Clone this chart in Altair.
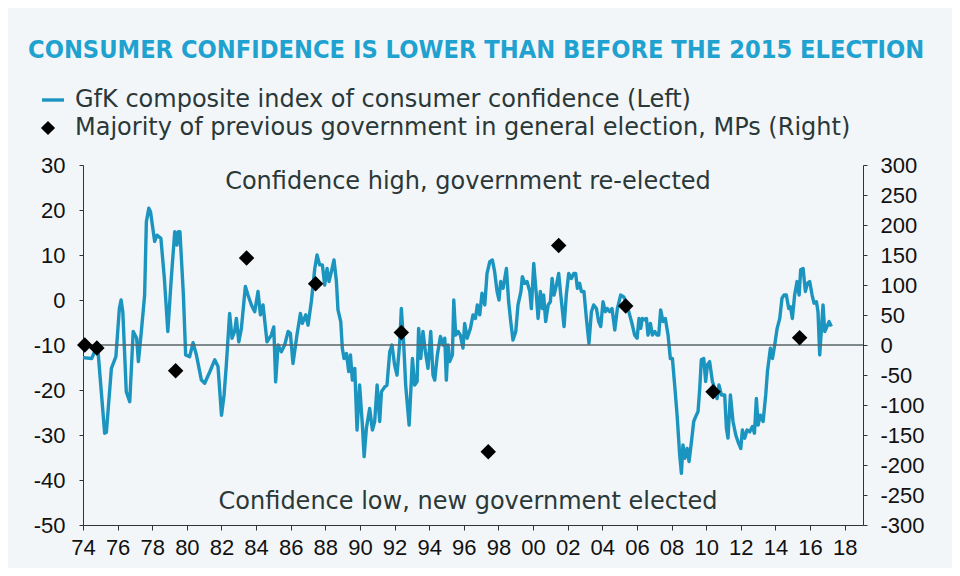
import altair as alt
import pandas as pd

# GfK composite consumer confidence index (left axis)
gfk_year = [
    1974.00, 1974.50, 1974.67, 1974.87, 1975.25, 1975.35, 1975.64, 1975.90, 1976.10, 1976.20,
    1976.30, 1976.50, 1976.70, 1976.90, 1977.10, 1977.20, 1977.37, 1977.56, 1977.66, 1977.80,
    1977.90, 1978.14, 1978.27, 1978.50, 1978.70, 1978.90, 1979.10, 1979.30, 1979.43, 1979.50,
    1979.60, 1979.80, 1979.93, 1980.16, 1980.36, 1980.55, 1980.84, 1981.03, 1981.32, 1981.61,
    1981.80, 1982.00, 1982.15, 1982.28, 1982.47, 1982.61, 1982.76, 1982.86, 1983.00, 1983.15,
    1983.38, 1983.53, 1983.73, 1983.92, 1984.11, 1984.25, 1984.40, 1984.63, 1984.88, 1985.02,
    1985.13, 1985.27, 1985.46, 1985.65, 1985.85, 1985.98, 1986.13, 1986.36, 1986.56, 1986.67,
    1986.87, 1987.00, 1987.19, 1987.39, 1987.52, 1987.67, 1987.83, 1987.96, 1988.10, 1988.21,
    1988.35, 1988.50, 1988.64, 1988.73, 1988.89, 1988.98, 1989.08, 1989.22, 1989.35, 1989.45,
    1989.56, 1989.70, 1989.83, 1989.98, 1990.14, 1990.24, 1990.37, 1990.56, 1990.72, 1990.85,
    1990.99, 1991.14, 1991.24, 1991.43, 1991.56, 1991.72, 1991.85, 1992.00, 1992.14, 1992.30,
    1992.39, 1992.53, 1992.64, 1992.84, 1993.03, 1993.16, 1993.30, 1993.39, 1993.51, 1993.64,
    1993.78, 1993.93, 1994.09, 1994.22, 1994.32, 1994.47, 1994.65, 1994.80, 1994.90, 1994.99,
    1995.09, 1995.18, 1995.34, 1995.42, 1995.53, 1995.67, 1995.80, 1995.95, 1996.05, 1996.19,
    1996.38, 1996.53, 1996.67, 1996.78, 1996.92, 1997.05, 1997.21, 1997.34, 1997.50, 1997.65,
    1997.78, 1997.92, 1998.03, 1998.13, 1998.27, 1998.46, 1998.59, 1998.71, 1998.84, 1999.00,
    1999.13, 1999.30, 1999.38, 1999.52, 1999.65, 1999.81, 1999.90, 2000.04, 2000.19, 2000.29,
    2000.42, 2000.54, 2000.61, 2000.73, 2000.87, 2001.00, 2001.10, 2001.21, 2001.35, 2001.48,
    2001.58, 2001.79, 2001.92, 2002.06, 2002.21, 2002.35, 2002.46, 2002.56, 2002.69, 2002.79,
    2002.94, 2003.08, 2003.23, 2003.37, 2003.50, 2003.66, 2003.79, 2003.91, 2004.04, 2004.18,
    2004.29, 2004.43, 2004.56, 2004.72, 2004.87, 2005.06, 2005.24, 2005.39, 2005.58, 2005.70,
    2005.87, 2006.01, 2006.12, 2006.22, 2006.31, 2006.45, 2006.55, 2006.64, 2006.78, 2006.89,
    2007.03, 2007.16, 2007.26, 2007.37, 2007.51, 2007.64, 2007.80, 2007.93, 2008.05, 2008.18,
    2008.32, 2008.47, 2008.57, 2008.66, 2008.76, 2008.90, 2009.01, 2009.15, 2009.28, 2009.43,
    2009.53, 2009.63, 2009.72, 2009.86, 2009.97, 2010.07, 2010.20, 2010.36, 2010.49, 2010.63,
    2010.74, 2010.88, 2011.07, 2011.17, 2011.26, 2011.40, 2011.55, 2011.71, 2011.84, 2012.00,
    2012.09, 2012.23, 2012.36, 2012.52, 2012.67, 2012.79, 2012.90, 2013.00, 2013.13, 2013.29,
    2013.44, 2013.54, 2013.71, 2013.83, 2013.96, 2014.10, 2014.25, 2014.38, 2014.50, 2014.63,
    2014.77, 2014.87, 2014.98, 2015.11, 2015.25, 2015.37, 2015.46, 2015.60, 2015.73, 2015.85,
    2015.98, 2016.12, 2016.23, 2016.37, 2016.46, 2016.56, 2016.66, 2016.75, 2016.85, 2016.98,
    2017.10, 2017.23,
]
gfk_value = [
    -12.8, -13.0, -11.5, -11.5, -29.6, -29.4, -15.2, -12.6, -1.9, 0.0,
    -2.6, -20.4, -22.6, -7.0, -8.5, -13.7, -7.0, 1.1, 17.4, 20.4,
    19.6, 13.0, 14.4, 13.7, 4.8, -7.0, 4.8, 15.2, 12.2, 15.2,
    15.2, 1.1, -12.2, -12.6, -9.5, -12.2, -17.8, -18.5, -16.0, -13.3,
    -14.8, -25.6, -21.1, -14.4, -3.0, -8.5, -7.0, -4.1, -9.3, -6.3,
    3.0, 1.1, -1.1, -2.6, 1.9, -3.3, -1.1, -9.3, -7.8, -6.0,
    -18.2, -10.0, -11.5, -10.0, -7.0, -7.4, -14.1, -7.8, -3.0, -5.2,
    -3.3, -5.6, -0.4, 7.0, 10.0, 7.8, 7.8, 3.3, 7.0, 4.1,
    6.3, 8.9, 4.1, -2.2, -4.8, -10.7, -13.0, -11.9, -15.9, -12.2,
    -17.8, -15.2, -28.9, -18.9, -27.8, -34.8, -28.5, -24.1, -28.9, -27.0,
    -18.9, -27.0, -20.4, -19.3, -18.9, -11.5, -10.0, -14.4, -16.7, -9.3,
    -1.9, -10.0, -18.9, -27.8, -13.0, -18.9, -18.1, -6.3, -13.0, -7.0,
    -11.5, -15.2, -7.0, -16.7, -17.8, -12.2, -8.1, -10.0, -8.5, -17.8,
    -10.0, -13.7, -12.2, 0.0, -7.8, -7.0, -7.8, -10.7, -5.2, -8.5,
    -6.3, -3.3, -4.1, -1.1, -3.3, 1.5, -1.1, 5.9, 8.5, 8.9,
    6.3, 1.9, 0.0, 4.1, 2.6, 7.0, -0.4, -4.8, -8.9, -7.0,
    -1.1, 1.9, 5.2, 3.7, 4.1, 1.9, -1.9, 8.1, 1.1, -4.1,
    1.9, -1.9, 1.1, -4.8, -1.1, -0.4, 4.8, 1.1, 3.3, 5.9,
    1.9, -5.9, 1.1, 5.9, 4.8, 5.9, 5.9, 2.6, 3.7, 1.9,
    1.9, -4.1, -9.6, -2.6, -1.1, -1.9, -4.8, -5.9, -0.4, -2.6,
    -1.9, -2.6, -1.9, -6.7, -1.9, 1.1, 0.7, -0.7, -3.3, -5.0,
    -7.8, -8.5, -4.1, -6.3, -4.1, -4.4, -4.1, -7.8, -5.2, -7.8,
    -7.0, -7.8, -7.8, -2.2, -4.8, -4.1, -7.8, -13.0, -13.0, -18.9,
    -25.6, -34.4, -38.5, -32.2, -35.2, -33.0, -35.9, -31.5, -27.0, -25.6,
    -24.8, -19.6, -13.3, -13.0, -18.1, -14.4, -13.7, -18.1, -19.6, -21.9,
    -18.9, -21.1, -21.1, -28.5, -30.7, -21.1, -27.0, -30.0, -31.5, -33.0,
    -28.9, -30.7, -28.9, -29.3, -28.1, -29.6, -21.9, -27.8, -25.6, -27.0,
    -21.1, -15.9, -10.7, -13.0, -10.0, -6.3, -4.1, 0.4, 1.1, 1.1,
    -1.9, -1.5, -4.1, 1.1, 4.1, 1.1, 6.7, 7.0, 1.9, 3.7,
    4.1, 1.1, -0.7, -0.4, -2.6, -12.2, -6.3, -1.1, -7.0, -5.9,
    -4.8, -5.9,
]

# Majority of previous government at general elections, MPs (right axis)
election_year = [1974.1, 1974.8, 1979.35, 1983.45, 1987.44, 1992.39, 1997.41, 2001.48, 2005.35, 2010.4, 2015.4]
election_majority = [0, -5, -43, 145, 102, 21, -178, 166, 65, -78, 12]

x_ticks = list(range(1974, 2019, 2))
left_ticks = list(range(-50, 31, 10))
right_ticks = list(range(-300, 301, 50))

TITLE = "CONSUMER CONFIDENCE IS LOWER THAN BEFORE THE 2015 ELECTION"
LEGEND_LINE = "GfK composite index of consumer confidence (Left)"
LEGEND_DIAMOND = "Majority of previous government in general election, MPs (Right)"
NOTE_HIGH = "Confidence high, government re-elected"
NOTE_LOW = "Confidence low, new government elected"

gfk = pd.DataFrame({"year": gfk_year, "value": gfk_value})
elections = pd.DataFrame({"year": election_year, "majority": election_majority})

AX_FONT = "Liberation Sans"
TXT_FONT = "DejaVu Sans"
LINE_COLOR = "#1b95bf"
TEXT_DARK = "#2a3838"
AX_SIZE = 22

x_scale = alt.Scale(domain=[1974, 2019.06], nice=False, zero=False)
x_axis = alt.Axis(
    values=x_ticks, labelExpr="substring(toString(datum.value), 2)",
    title=None, grid=False, tickSize=5, labelPadding=7, labelOverlap=False,
    labelFontSize=AX_SIZE, labelFont=AX_FONT, labelColor="#111",
    domainColor="#333", tickColor="#333", labelFlush=False, labelBound=False,
)
x_enc = alt.X("year:Q", scale=x_scale, axis=x_axis)

left_scale = alt.Scale(domain=[-50, 30], nice=False, zero=False)

line = alt.Chart(gfk).mark_line(color=LINE_COLOR, strokeWidth=3.4, strokeJoin="round").encode(
    x=x_enc,
    y=alt.Y(
        "value:Q", scale=left_scale,
        axis=alt.Axis(
            orient="left", values=left_ticks, title=None, grid=False,
            labelExpr="toString(datum.value)", labelOverlap=False,
            tickSize=4, labelPadding=14, labelFontSize=AX_SIZE, labelFont=AX_FONT,
            labelColor="#111", domainColor="#333", tickColor="#333",
        ),
    ),
)

zero_rule = alt.Chart(pd.DataFrame({"y": [-10]})).mark_rule(
    color="#5a6466", strokeWidth=1.3
).encode(y=alt.Y("y:Q", scale=left_scale))

left_group = alt.layer(line, zero_rule)

diamonds = alt.Chart(elections).mark_point(
    shape="diamond", filled=True, color="black", size=240, opacity=1
).encode(
    x=alt.X("year:Q", scale=x_scale, axis=x_axis),
    y=alt.Y(
        "majority:Q", scale=alt.Scale(domain=[-300, 300], nice=False, zero=False),
        axis=alt.Axis(
            orient="right", values=right_ticks, title=None, grid=False,
            labelExpr="toString(datum.value)", labelOverlap=False,
            tickSize=4, labelPadding=13, labelFontSize=AX_SIZE, labelFont=AX_FONT,
            labelColor="#111", domainColor="#333", tickColor="#333",
        ),
    ),
)


def label(text, x, y, size, color, font, weight="normal", align="left"):
    return alt.Chart(pd.DataFrame({"t": [text]})).mark_text(
        align=align, baseline="middle", fontSize=size, font=font,
        fontWeight=weight, color=color,
    ).encode(text="t:N", x=alt.value(x), y=alt.value(y))


title = label(TITLE, -55, -115, 25.2, "#1fa2d0",
              "'Liberation Sans Narrow', 'DejaVu Sans Condensed', Roboto", weight="bold")
leg1 = label(LEGEND_LINE, -8, -65, 24, TEXT_DARK, TXT_FONT)
leg2 = label(LEGEND_DIAMOND, -8, -37, 24, TEXT_DARK, TXT_FONT)
note_hi = label(NOTE_HIGH, 385, 17, 24, TEXT_DARK, TXT_FONT, align="center")
note_lo = label(NOTE_LOW, 385, 337, 24, TEXT_DARK, TXT_FONT, align="center")

leg_dash = alt.Chart(pd.DataFrame({"k": [0]})).mark_rule(
    color=LINE_COLOR, strokeWidth=3.4
).encode(x=alt.value(-41), x2=alt.value(-19), y=alt.value(-65))
leg_diamond = alt.Chart(pd.DataFrame({"k": [0]})).mark_point(
    shape="diamond", filled=True, color="black", size=200, opacity=1
).encode(x=alt.value(-35), y=alt.value(-37))

chart = alt.layer(
    left_group, diamonds, title, leg1, leg2, note_hi, note_lo, leg_dash, leg_diamond
).resolve_scale(y="independent").properties(
    width=780, height=360,
    autosize=alt.AutoSizeParams(type="none"),
    padding={"left": 75, "top": 157, "right": 89, "bottom": 43},
    background="#f3f6f9",
).configure_view(stroke=None).configure_axis(labelOverlap=False)

chart.save("out.html", embed_options={"renderer": "svg", "actions": False})
